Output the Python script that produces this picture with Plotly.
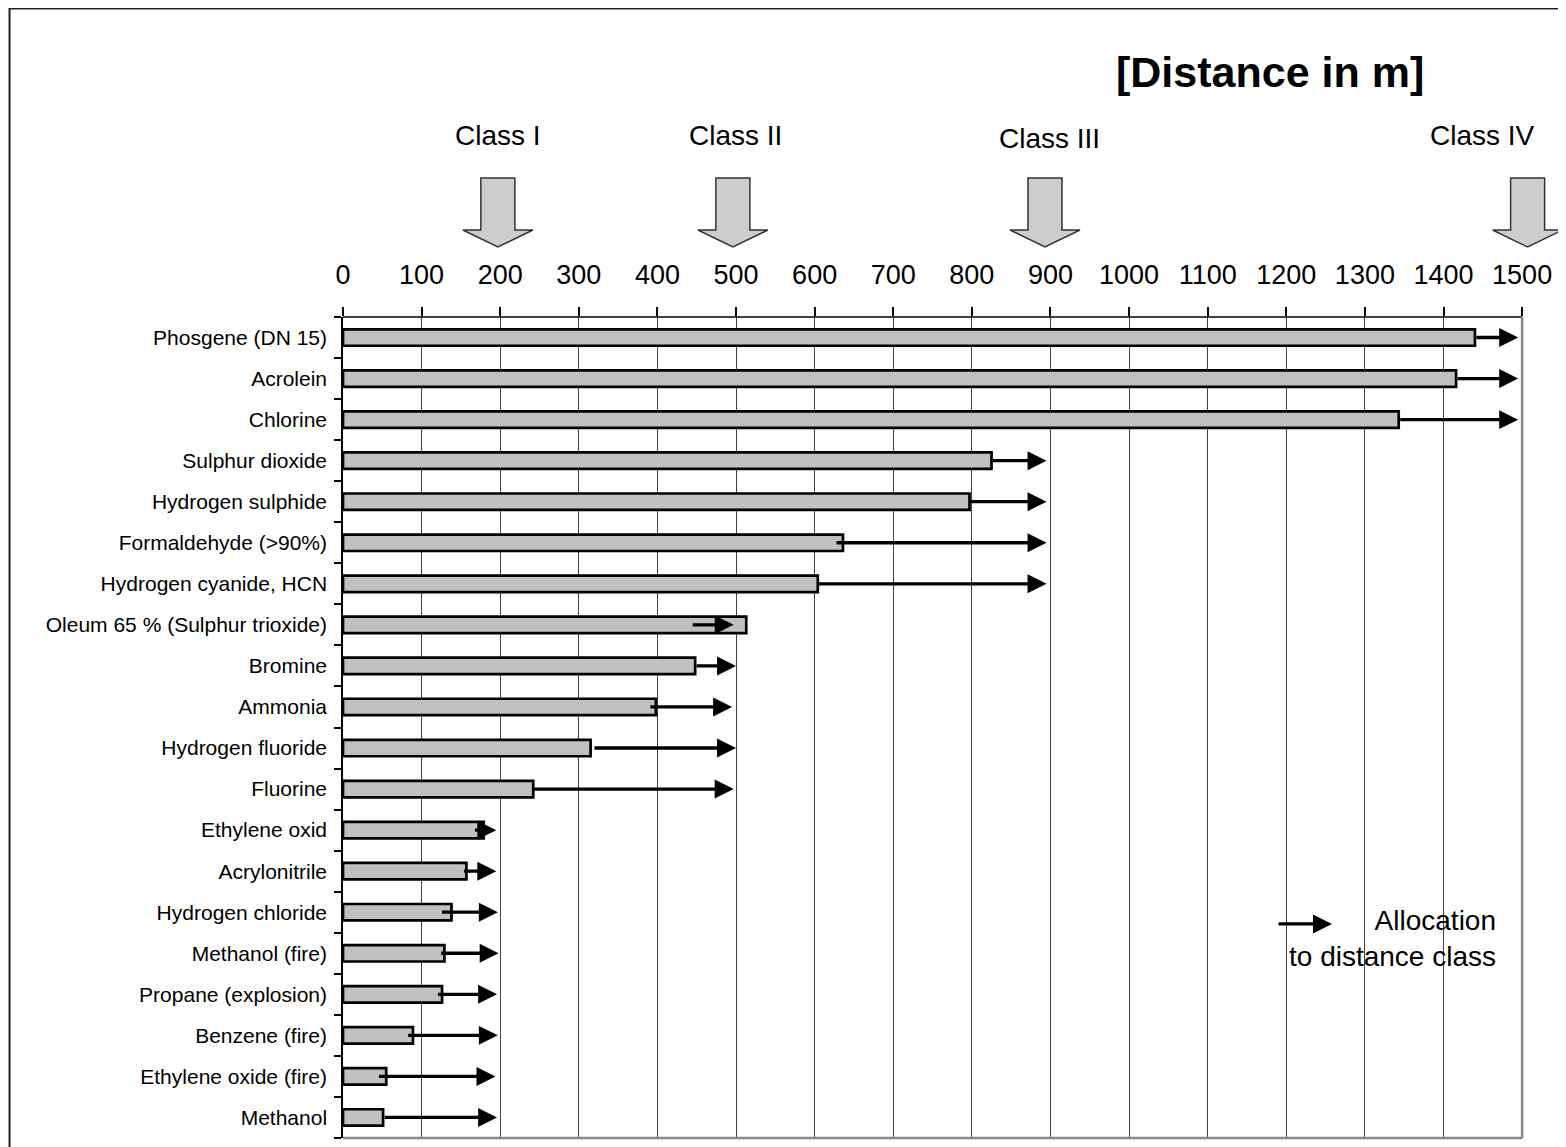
import plotly.graph_objects as go

# ---------------- data ----------------
substances = [
    "Phosgene (DN 15)", "Acrolein", "Chlorine", "Sulphur dioxide", "Hydrogen sulphide",
    "Formaldehyde (>90%)", "Hydrogen cyanide, HCN", "Oleum 65 % (Sulphur trioxide)",
    "Bromine", "Ammonia", "Hydrogen fluoride", "Fluorine", "Ethylene oxid",
    "Acrylonitrile", "Hydrogen chloride", "Methanol (fire)", "Propane (explosion)",
    "Benzene (fire)", "Ethylene oxide (fire)", "Methanol",
]
distance = [1440, 1416, 1343, 825, 797, 636, 604, 513, 448, 398, 315, 242,
            179, 157, 138, 129, 126, 89, 55, 51]
arrow_start = [1440, 1416, 1343, 823, 795, 626, 602, 443, 448, 389, 318, 240,
               166, 152, 124, 123, 119, 81, 44, 51]
arrow_end = [1495, 1495, 1495, 895, 895, 895, 895, 497, 500, 495, 500, 497,
             195, 195, 197, 198, 196, 197, 194, 196]

class_names = ["Class I", "Class II", "Class III", "Class IV"]
class_values = [197, 496, 893, 1507]

x_ticks = list(range(0, 1501, 100))

FONT = "Arial, Liberation Sans, sans-serif"

fig = go.Figure()

fig.add_trace(go.Bar(
    x=distance, y=substances, orientation="h",
    marker=dict(color="#c0c0c0", line=dict(color="black", width=2.7)),
    width=0.4, hoverinfo="skip", showlegend=False,
))

annotations = []
for name, s, e in zip(substances, arrow_start, arrow_end):
    annotations.append(dict(
        x=e, y=name, xref="x", yref="y",
        ax=s, ay=name, axref="x", ayref="y",
        text="", showarrow=True, arrowhead=2, arrowsize=1.15, arrowwidth=3.3,
        arrowcolor="black", standoff=0, startstandoff=0,
    ))

label_shift = [0, 3, 5, -45]
label_yshift = [182, 182, 179, 182]
for name, v, xs, ys in zip(class_names, class_values, label_shift, label_yshift):
    annotations.append(dict(
        x=v, y=1, xref="x", yref="paper", text=name, showarrow=False,
        xanchor="center", yanchor="middle", xshift=xs, yshift=ys,
        font=dict(family=FONT, size=28, color="black"),
    ))

annotations.append(dict(
    x=0.753, y=1, xref="paper", yref="paper", yshift=245,
    text="<b>[Distance in m]</b>", showarrow=False, xanchor="center", yanchor="middle",
    font=dict(family=FONT, size=43, color="black"),
))

# legend
annotations.append(dict(
    x=0.8034, y=0.2607, xref="paper", yref="paper",
    ax=-55, ay=0, axref="pixel", ayref="pixel",
    text="", showarrow=True, arrowhead=2, arrowsize=1.15, arrowwidth=3.3,
    arrowcolor="black", standoff=0, startstandoff=0,
))
annotations.append(dict(
    x=0.9382, y=0.2436, xref="paper", yref="paper",
    text="Allocation<br>to distance class", showarrow=False, align="right",
    xanchor="right", yanchor="middle", font=dict(family=FONT, size=28, color="black"),
))

shapes = []
# block arrows for distance classes
arrow_path = "M -17 139 L 17 139 L 17 87 L 35 87 L 0 70 L -35 87 L -17 87 Z"
for v in class_values:
    shapes.append(dict(
        type="path", xref="x", yref="paper", xsizemode="pixel", ysizemode="pixel",
        xanchor=v, yanchor=1, path=arrow_path,
        fillcolor="#cdcdcd", line=dict(color="#333333", width=1.5), layer="above",
    ))
# top axis line, right and bottom borders
shapes.append(dict(type="line", xref="x", yref="paper", x0=0, x1=1500, y0=1, y1=1,
                   line=dict(color="black", width=1.5)))
shapes.append(dict(type="line", xref="x", yref="paper", x0=1500, x1=1500, y0=0, y1=1,
                   line=dict(color="#888888", width=2.5)))
shapes.append(dict(type="line", xref="x", yref="paper", x0=0, x1=1500, y0=0, y1=0,
                   line=dict(color="#888888", width=2.5)))
# outer frame
shapes.append(dict(type="rect", xref="paper", yref="paper", x0=-0.2709, x1=1.05,
                   y0=-0.05, y1=1.3758, line=dict(color="#222222", width=2),
                   fillcolor="rgba(0,0,0,0)", layer="below"))

fig.update_layout(
    width=1566, height=1147,
    margin=dict(l=335, r=0, t=309, b=17),
    paper_bgcolor="white", plot_bgcolor="white",
    bargap=0.6,
    xaxis=dict(
        side="top", range=[0, 1566], tickmode="array", tickvals=x_ticks,
        ticktext=[str(t) for t in x_ticks],
        showgrid=True, gridcolor="#444444", gridwidth=1, zeroline=False,
        showline=False, ticks="outside", ticklen=9, tickcolor="black", tickwidth=1.5,
        tickfont=dict(family=FONT, size=27, color="black"), ticklabelstandoff=12,
        fixedrange=True,
    ),
    yaxis=dict(
        type="category", categoryorder="array", categoryarray=substances[::-1],
        tickson="boundaries", ticks="outside", ticklen=7, tickcolor="black", tickwidth=1.5,
        showline=True, linecolor="black", linewidth=1.5, showgrid=False, zeroline=False,
        tickfont=dict(family=FONT, size=21, color="black"), ticklabelstandoff=10,
        fixedrange=True,
    ),
    annotations=annotations,
    shapes=shapes,
    showlegend=False,
)

fig.write_html("out.html")
